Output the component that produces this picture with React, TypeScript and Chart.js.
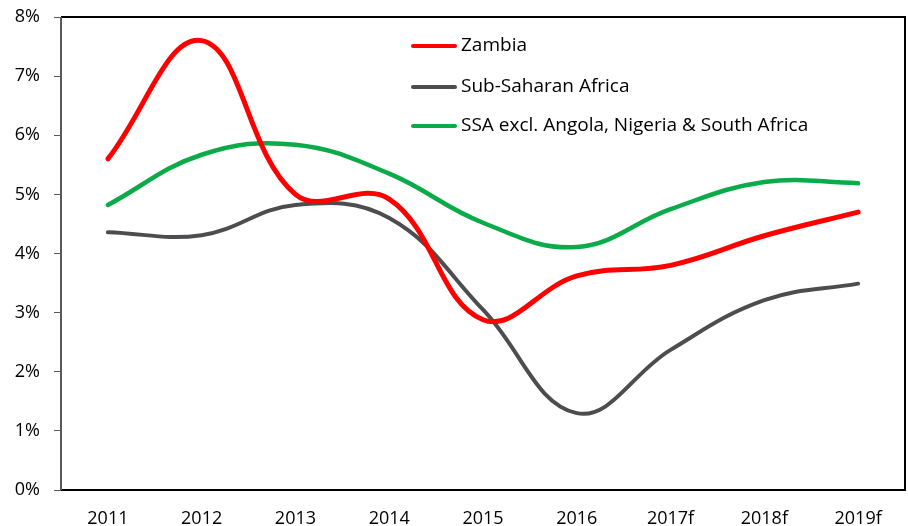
import React, { useEffect, useRef } from "react";
import { Chart, registerables } from "chart.js";

Chart.register(...registerables);

const categories = ["2011", "2012", "2013", "2014", "2015", "2016", "2017f", "2018f", "2019f"];
const zambia = [5.6, 7.6, 5.0, 4.92, 2.88, 3.62, 3.8, 4.3, 4.7];
const ssa = [4.36, 4.31, 4.82, 4.6, 3.05, 1.3, 2.37, 3.21, 3.49];
const ssaExcl = [4.82, 5.67, 5.84, 5.35, 4.52, 4.11, 4.75, 5.21, 5.19];
const yTicks = [0, 1, 2, 3, 4, 5, 6, 7, 8];

const FONT = "'Open Sans', sans-serif";

const boxPlugin = {
  id: "box",
  beforeDatasetsDraw(chart: any) {
    const { ctx, chartArea: a } = chart;
    ctx.save();
    ctx.lineWidth = 2;
    ctx.strokeStyle = "#000";
    ctx.beginPath();
    ctx.moveTo(a.left, a.top);
    ctx.lineTo(a.right, a.top);
    ctx.lineTo(a.right, a.bottom);
    ctx.lineTo(a.left, a.bottom);
    ctx.stroke();
    ctx.strokeStyle = "#595959";
    ctx.beginPath();
    ctx.moveTo(a.left, a.top);
    ctx.lineTo(a.left, a.bottom);
    ctx.stroke();
    ctx.restore();
  },
};

const legendPlugin = {
  id: "customLegend",
  afterDraw(chart: any) {
    const { ctx } = chart;
    const x0 = 413;
    const x1 = 455;
    const ys = [46, 87, 126];
    ctx.save();
    chart.data.datasets.forEach((ds: any, i: number) => {
      ctx.strokeStyle = ds.borderColor;
      ctx.lineWidth = 4;
      ctx.lineCap = "round";
      ctx.beginPath();
      ctx.moveTo(x0, ys[i]);
      ctx.lineTo(x1, ys[i]);
      ctx.stroke();
      ctx.fillStyle = "#000";
      ctx.font = `19px ${FONT}`;
      ctx.textAlign = "left";
      ctx.textBaseline = "middle";
      ctx.fillText(ds.label, x1 + 6, ys[i]);
    });
    ctx.restore();
  },
};

export default function App() {
  const ref = useRef<HTMLCanvasElement>(null);
  useEffect(() => {
    if (!ref.current) return;
    const chart = new Chart(ref.current, {
      type: "line",
      data: {
        labels: categories,
        datasets: [
          { label: "Zambia", data: zambia, borderColor: "#ff0000", borderWidth: 5 },
          { label: "Sub-Saharan Africa", data: ssa, borderColor: "#4d4d4f", borderWidth: 4 },
          { label: "SSA excl. Angola, Nigeria & South Africa", data: ssaExcl, borderColor: "#0bab49", borderWidth: 4.5 },
        ].map((d) => ({ ...d, pointRadius: 0, tension: 0.4, fill: false, borderCapStyle: "round" as const })),
      },
      options: {
        animation: false,
        responsive: false,
        maintainAspectRatio: false,
        layout: { padding: { top: 17, right: 3, left: 0, bottom: 0 } },
        plugins: { legend: { display: false }, tooltip: { enabled: false } },
        scales: {
          x: {
            offset: true,
            grid: { display: false },
            border: { display: false },
            ticks: { color: "#000", font: { family: FONT, size: 18 }, padding: 10, maxRotation: 0 },
            afterFit: (s: any) => { s.height = 36; s.paddingLeft = 0; s.paddingRight = 0; },
          },
          y: {
            min: 0,
            max: 8,
            afterBuildTicks: (s: any) => { s.ticks = yTicks.map((v) => ({ value: v })); },
            grid: { drawOnChartArea: false, tickLength: 7, color: "#595959", lineWidth: 1 },
            border: { display: false },
            ticks: { color: "#000", font: { family: FONT, size: 18 }, padding: 14, callback: (v: any) => v + "%" },
            afterFit: (s: any) => { s.width = 61; s.paddingTop = 0; s.paddingBottom = 0; },
          },
        },
      },
      plugins: [boxPlugin, legendPlugin],
    });
    return () => chart.destroy();
  }, []);
  return (
    <div style={{ position: "fixed", left: 0, top: 0, width: 908, height: 526, background: "#fff" }}>
      <canvas ref={ref} width={908} height={526} style={{ display: "block" }} />
    </div>
  );
}
